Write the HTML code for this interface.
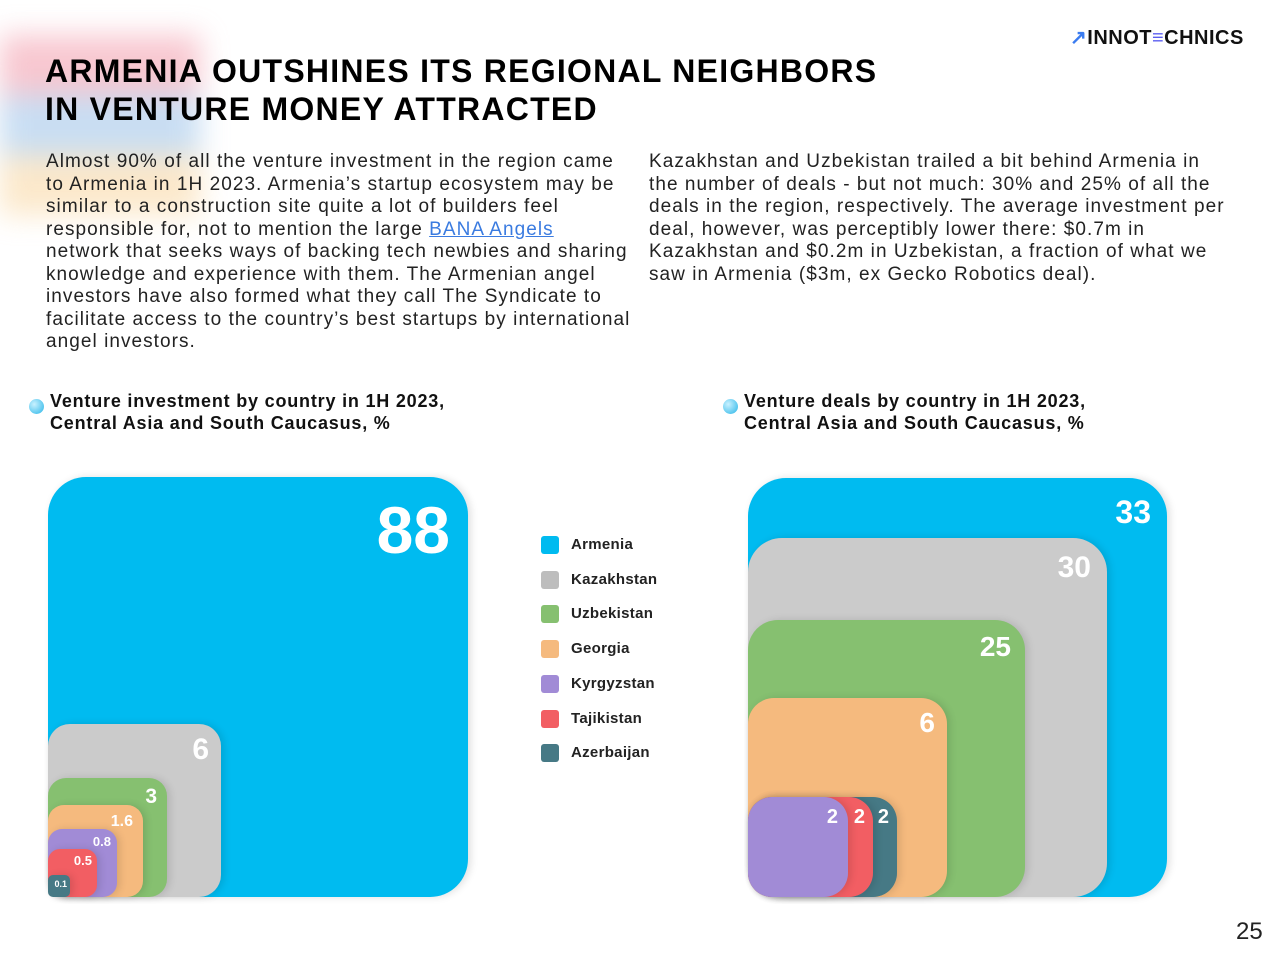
<!DOCTYPE html>
<html><head><meta charset="utf-8"><style>
*{margin:0;padding:0;box-sizing:border-box}
body{width:1280px;height:960px;background:#fff;position:relative;overflow:hidden;font-family:"Liberation Sans",sans-serif;color:#111}
.abs{position:absolute}
.flag{position:absolute;left:0;top:25px;width:200px;height:200px;filter:blur(14px);opacity:.55}
h1{position:absolute;left:45px;top:52px;font-size:32px;line-height:38px;font-weight:bold;letter-spacing:1.25px;color:#000}
.p{position:absolute;font-size:19px;line-height:22.5px;color:#222;white-space:nowrap;letter-spacing:1.05px}
.p a{color:#3a7be0;text-decoration:underline}
.ct{position:absolute;font-size:18px;line-height:22px;font-weight:bold;white-space:nowrap;color:#111;letter-spacing:0.8px}
.dot{position:absolute;width:15px;height:15px;border-radius:50%;background:radial-gradient(circle at 35% 35%,#c9f1ff,#29b6e8)}
.sq{position:absolute;color:#fff;font-weight:bold;text-align:right;box-shadow:3px 0 8px rgba(0,0,0,.12)}
.lg{position:absolute;left:541px;font-size:15px;font-weight:bold;color:#222;letter-spacing:0.3px}
.lg i{position:absolute;left:0;top:0;width:18px;height:18px;border-radius:3px}
.lg span{position:absolute;left:30px;top:0;line-height:18px;white-space:nowrap}
</style></head><body>
<div class="flag">
<div style="height:60px;background:#f29aaa;margin-top:10px"></div>
<div style="height:60px;background:#9cc3ea"></div>
<div style="height:60px;background:#f9d6a0"></div>
</div>
<h1>ARMENIA OUTSHINES ITS REGIONAL NEIGHBORS<br>IN VENTURE MONEY ATTRACTED</h1>
<div class="abs" style="left:1070px;top:25px;font-size:20px;font-weight:bold;letter-spacing:0.5px;white-space:nowrap"><span style="color:#3b7cf0">&#8599;</span>INNOT<span style="color:#5b5ef0">&#8801;</span>CHNICS</div>
<div class="p" style="left:46px;top:151px">Almost 90% of all the venture investment in the region came<br>to Armenia in 1H 2023. Armenia’s startup ecosystem may be<br>similar to a construction site quite a lot of builders feel<br>responsible for, not to mention the large <a>BANA Angels</a><br>network that seeks ways of backing tech newbies and sharing<br>knowledge and experience with them. The Armenian angel<br>investors have also formed what they call The Syndicate to<br>facilitate access to the country’s best startups by international<br>angel investors.</div>
<div class="p" style="left:649px;top:151px">Kazakhstan and Uzbekistan trailed a bit behind Armenia in<br>the number of deals - but not much: 30% and 25% of all the<br>deals in the region, respectively. The average investment per<br>deal, however, was perceptibly lower there: $0.7m in<br>Kazakhstan and $0.2m in Uzbekistan, a fraction of what we<br>saw in Armenia ($3m, ex Gecko Robotics deal).</div>
<div class="dot" style="left:29px;top:399px"></div>
<div class="ct" style="left:50px;top:390px">Venture investment by country in 1H 2023,<br>Central Asia and South Caucasus, %</div>
<div class="dot" style="left:723px;top:399px"></div>
<div class="ct" style="left:744px;top:390px">Venture deals by country in 1H 2023,<br>Central Asia and South Caucasus, %</div>

<div class="sq" style="left:48px;top:477px;width:420px;height:420px;background:#00bbf0;border-radius:38px;font-size:66px;padding:18px 18px 0 0;line-height:70px">88</div>
<div class="sq" style="left:48px;top:724px;width:173px;height:173px;background:#cbcbcb;border-radius:22px;font-size:30px;padding:8px 12px 0 0;line-height:36px">6</div>
<div class="sq" style="left:48px;top:778px;width:119px;height:119px;background:#86c070;border-radius:18px;font-size:21px;padding:7px 10px 0 0;line-height:24px">3</div>
<div class="sq" style="left:48px;top:805px;width:95px;height:92px;background:#f5ba7e;border-radius:16px;font-size:16px;padding:7px 10px 0 0;line-height:20px">1.6</div>
<div class="sq" style="left:48px;top:829px;width:69px;height:68px;background:#a18bd6;border-radius:14px;font-size:13px;padding:5px 6px 0 0;line-height:16px">0.8</div>
<div class="sq" style="left:48px;top:849px;width:49px;height:48px;background:#f25e63;border-radius:12px;font-size:13px;padding:4px 5px 0 0;line-height:16px">0.5</div>
<div class="sq" style="left:48px;top:875px;width:22px;height:22px;background:#467985;border-radius:5px;font-size:9px;padding:4px 3px 0 0;line-height:11px">0.1</div>

<div class="lg" style="top:536px"><i style="background:#00bbf0"></i><span>Armenia</span></div>
<div class="lg" style="top:571px"><i style="background:#bdbdbd"></i><span>Kazakhstan</span></div>
<div class="lg" style="top:605px"><i style="background:#86c070"></i><span>Uzbekistan</span></div>
<div class="lg" style="top:640px"><i style="background:#f5ba7e"></i><span>Georgia</span></div>
<div class="lg" style="top:675px"><i style="background:#a18bd6"></i><span>Kyrgyzstan</span></div>
<div class="lg" style="top:710px"><i style="background:#f25e63"></i><span>Tajikistan</span></div>
<div class="lg" style="top:744px"><i style="background:#467985"></i><span>Azerbaijan</span></div>

<div class="sq" style="left:748px;top:478px;width:419px;height:419px;background:#00bbf0;border-radius:38px;font-size:32px;padding:16px 16px 0 0;line-height:36px">33</div>
<div class="sq" style="left:748px;top:538px;width:359px;height:359px;background:#cbcbcb;border-radius:34px;font-size:30px;padding:12px 16px 0 0;line-height:36px">30</div>
<div class="sq" style="left:748px;top:620px;width:277px;height:277px;background:#86c070;border-radius:30px;font-size:28px;padding:10px 14px 0 0;line-height:34px">25</div>
<div class="sq" style="left:748px;top:698px;width:199px;height:199px;background:#f5ba7e;border-radius:26px;font-size:28px;padding:8px 12px 0 0;line-height:34px">6</div>
<div class="sq" style="left:748px;top:797px;width:149px;height:100px;background:#467985;border-radius:24px;font-size:20px;padding:8px 8px 0 0;line-height:24px">2</div>
<div class="sq" style="left:748px;top:797px;width:125px;height:100px;background:#f25e63;border-radius:24px;font-size:20px;padding:8px 8px 0 0;line-height:24px">2</div>
<div class="sq" style="left:748px;top:797px;width:100px;height:100px;background:#a18bd6;border-radius:24px;font-size:20px;padding:8px 10px 0 0;line-height:24px">2</div>

<div class="abs" style="left:1236px;top:918px;font-size:24px;color:#222">25</div>
</body></html>
